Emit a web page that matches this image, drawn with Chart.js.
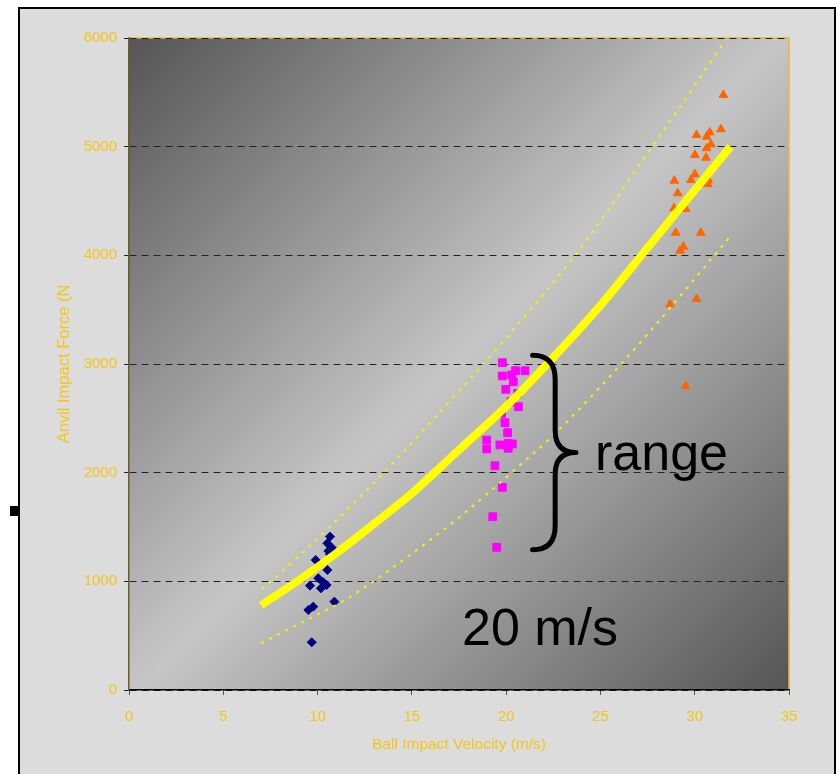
<!DOCTYPE html>
<html>
<head>
<meta charset="utf-8">
<script src="https://cdn.jsdelivr.net/npm/chart.js@4.4.0/dist/chart.umd.min.js"></script>
<style>
    html, body { margin: 0; padding: 0; background: #fff; }
    #wrap { position: relative; width: 836px; height: 774px; overflow: hidden; }
    #frame { position: absolute; left: 18px; top: 7px; width: 814px; height: 800px; border: 2px solid #000; background: #dcdcdc; }
    #mark { position: absolute; left: 10px; top: 506px; width: 8px; height: 10px; background: #000; }
    #c { position: absolute; left: 0; top: 0; }
    .note { position: absolute; font-family: "Liberation Sans", Arial, sans-serif; font-size: 52px; line-height: 52px; color: #000; white-space: nowrap; }
</style>
</head>
<body>
<div id="wrap">
    <div id="frame"></div>
    <div id="mark"></div>
    <canvas id="c" width="836" height="774"></canvas>
    <div class="note" style="left:595px; top:426px;">range</div>
    <div class="note" style="left:462px; top:601px;">20 m/s</div>
</div>
<script>
// ---- data ----
const xTicks = [0, 5, 10, 15, 20, 25, 30, 35];
const yTicks = [0, 1000, 2000, 3000, 4000, 5000, 6000];

// ~10 m/s shots (navy diamonds)
const slowX = [10.66, 10.52, 10.75, 10.57, 10.66, 9.90, 10.52, 10.04, 10.18, 9.60, 10.48, 10.30, 10.89, 9.77, 9.51, 9.69];
const slowY = [1411, 1350, 1310, 1279, 1249, 1196, 1104, 1028, 936, 960, 966, 991, 813, 767, 736, 439];

// ~20 m/s shots (magenta squares)
const midX = [19.80, 19.80, 20.29, 20.50, 21.00, 20.38, 19.98, 20.61, 20.26, 20.65, 19.76, 19.94, 20.08, 18.97, 18.97, 19.67, 20.11, 20.33, 20.11, 19.41, 19.80, 19.29, 19.50];
const midY = [3012, 2890, 2899, 2938, 2938, 2837, 2767, 2730, 2653, 2607, 2546, 2460, 2368, 2300, 2218, 2255, 2270, 2264, 2224, 2064, 1865, 1595, 1313];

// ~30 m/s shots (orange triangles)
const fastX = [31.52, 31.39, 30.10, 30.80, 30.63, 30.86, 30.63, 30.01, 30.60, 30.01, 29.80, 30.72, 30.69, 28.92, 29.10, 28.90, 29.52, 28.99, 30.32, 29.40, 29.22, 28.69, 30.10, 29.52];
const fastY = [5475, 5160, 5107, 5132, 5092, 5021, 4985, 4923, 4899, 4746, 4693, 4693, 4656, 4687, 4571, 4433, 4426, 4208, 4208, 4080, 4043, 3549, 3598, 2797];

// fitted curve and its band (yellow)
const fitX = [7, 9, 11, 13, 15, 17.5, 20, 22.5, 25, 27.5, 30, 31.9];
const fitY = [780, 1010, 1260, 1530, 1810, 2210, 2610, 3060, 3540, 4070, 4600, 5000];
const upperX = [7.05, 8.0, 10.75, 14, 17.55, 19.76, 24, 27.98, 29.84, 31.6];
const upperY = [929, 1074, 1518, 2090, 2761, 3190, 4080, 5061, 5521, 5975];
const lowerX = [7.0, 8.7, 11.45, 13.05, 17.55, 21.35, 22.24, 25, 27.72, 31.8];
const lowerY = [430, 583, 828, 1012, 1595, 2163, 2300, 2790, 3319, 4156];

// brace annotation, in axis units
const braceTop = 3080, braceBottom = 1290;
const braceLeft = 21.4, braceSpine = 22.6, braceTip = 23.7;

function pts(xs, ys) {
    return xs.map((x, i) => ({ x: x, y: ys[i] }));
}

const gold = '#f5c518';
const font = "'Liberation Sans', Arial, sans-serif";

const plotBack = {
    id: 'plotBack',
    beforeDraw(chart) {
        const { ctx, chartArea: a } = chart;
        const g = ctx.createLinearGradient(a.left, a.top, a.right, a.bottom);
        g.addColorStop(0, '#555555');
        g.addColorStop(0.5, '#c6c6c6');
        g.addColorStop(1, '#555555');
        ctx.save();
        ctx.fillStyle = g;
        ctx.fillRect(a.left, a.top, a.right - a.left, a.bottom - a.top);
        ctx.strokeStyle = '#e8bb2e';
        ctx.lineWidth = 1.5;
        ctx.beginPath();
        ctx.moveTo(a.left, a.top);
        ctx.lineTo(a.right, a.top);
        ctx.lineTo(a.right, a.bottom);
        ctx.stroke();
        ctx.restore();
    }
};

const brace = {
    id: 'brace',
    afterDraw(chart) {
        const { ctx, scales: { x, y } } = chart;
        const xl = x.getPixelForValue(braceLeft);
        const xs = x.getPixelForValue(braceSpine);
        const xt = x.getPixelForValue(braceTip);
        const yt = y.getPixelForValue(braceTop);
        const yb = y.getPixelForValue(braceBottom);
        const ym = (yt + yb) / 2;
        ctx.save();
        ctx.strokeStyle = '#000';
        ctx.lineWidth = 5;
        ctx.lineCap = 'round';
        ctx.lineJoin = 'round';
        ctx.beginPath();
        ctx.moveTo(xl, yt);
        ctx.quadraticCurveTo(xs, yt, xs, yt + 24);
        ctx.lineTo(xs, ym - 22);
        ctx.quadraticCurveTo(xs, ym, xt, ym);
        ctx.quadraticCurveTo(xs, ym, xs, ym + 22);
        ctx.lineTo(xs, yb - 24);
        ctx.quadraticCurveTo(xs, yb, xl, yb);
        ctx.stroke();
        ctx.restore();
    }
};

new Chart(document.getElementById('c'), {
    type: 'scatter',
    data: {
        datasets: [
            {
                data: pts(fitX, fitY),
                showLine: true,
                borderColor: '#ffff00',
                borderWidth: 8,
                borderCapStyle: 'butt',
                cubicInterpolationMode: 'monotone',
                pointRadius: 0
            },
            {
                data: pts(upperX, upperY),
                showLine: true,
                borderColor: '#f4f400',
                borderWidth: 2,
                borderDash: [3, 6],
                cubicInterpolationMode: 'monotone',
                pointRadius: 0
            },
            {
                data: pts(lowerX, lowerY),
                showLine: true,
                borderColor: '#f4f400',
                borderWidth: 2,
                borderDash: [3, 6],
                cubicInterpolationMode: 'monotone',
                pointRadius: 0
            },
            {
                data: pts(slowX, slowY),
                pointStyle: 'rectRot',
                pointRadius: 4.5,
                backgroundColor: '#000080',
                borderColor: '#000080',
                borderWidth: 1
            },
            {
                data: pts(midX, midY),
                pointStyle: 'rect',
                pointRadius: 5.5,
                backgroundColor: '#ff00ff',
                borderColor: '#ff00ff',
                borderWidth: 1
            },
            {
                data: pts(fastX, fastY),
                pointStyle: 'triangle',
                pointRadius: 5,
                backgroundColor: '#ff6600',
                borderColor: '#ff6600',
                borderWidth: 1
            }
        ]
    },
    options: {
        responsive: false,
        animation: false,
        events: [],
        layout: { padding: { left: 20, top: 38, right: 47, bottom: 0 } },
        plugins: {
            legend: { display: false },
            tooltip: { enabled: false }
        },
        scales: {
            x: {
                type: 'linear',
                min: 0,
                max: 35,
                afterBuildTicks: s => { s.ticks = xTicks.map(v => ({ value: v })); },
                afterFit: s => { s.height = 84; },
                ticks: { color: gold, font: { family: font, size: 15 }, padding: 13, callback: v => String(v) },
                grid: { drawOnChartArea: false, tickLength: 5, tickColor: '#555' },
                border: { color: '#000', width: 1.5 },
                title: {
                    display: true,
                    text: 'Ball Impact Velocity (m/s)',
                    color: gold,
                    font: { family: font, size: 15.5 },
                    padding: { top: 0, bottom: 20 }
                }
            },
            y: {
                min: 0,
                max: 6000,
                afterBuildTicks: s => { s.ticks = yTicks.map(v => ({ value: v })); },
                afterFit: s => { s.width = 109; },
                ticks: { color: gold, font: { family: font, size: 15 }, padding: 7, callback: v => String(v) },
                grid: { color: '#222', lineWidth: 1, tickLength: 5, tickColor: '#222' },
                border: { color: '#6e5b2a', width: 1.5, dash: [7, 5] },
                title: {
                    display: true,
                    text: 'Anvil Impact Force (N',
                    color: gold,
                    font: { family: font, size: 16.5 },
                    padding: { top: 35, bottom: 0 }
                }
            }
        }
    },
    plugins: [plotBack, brace]
});
</script>
</body>
</html>
